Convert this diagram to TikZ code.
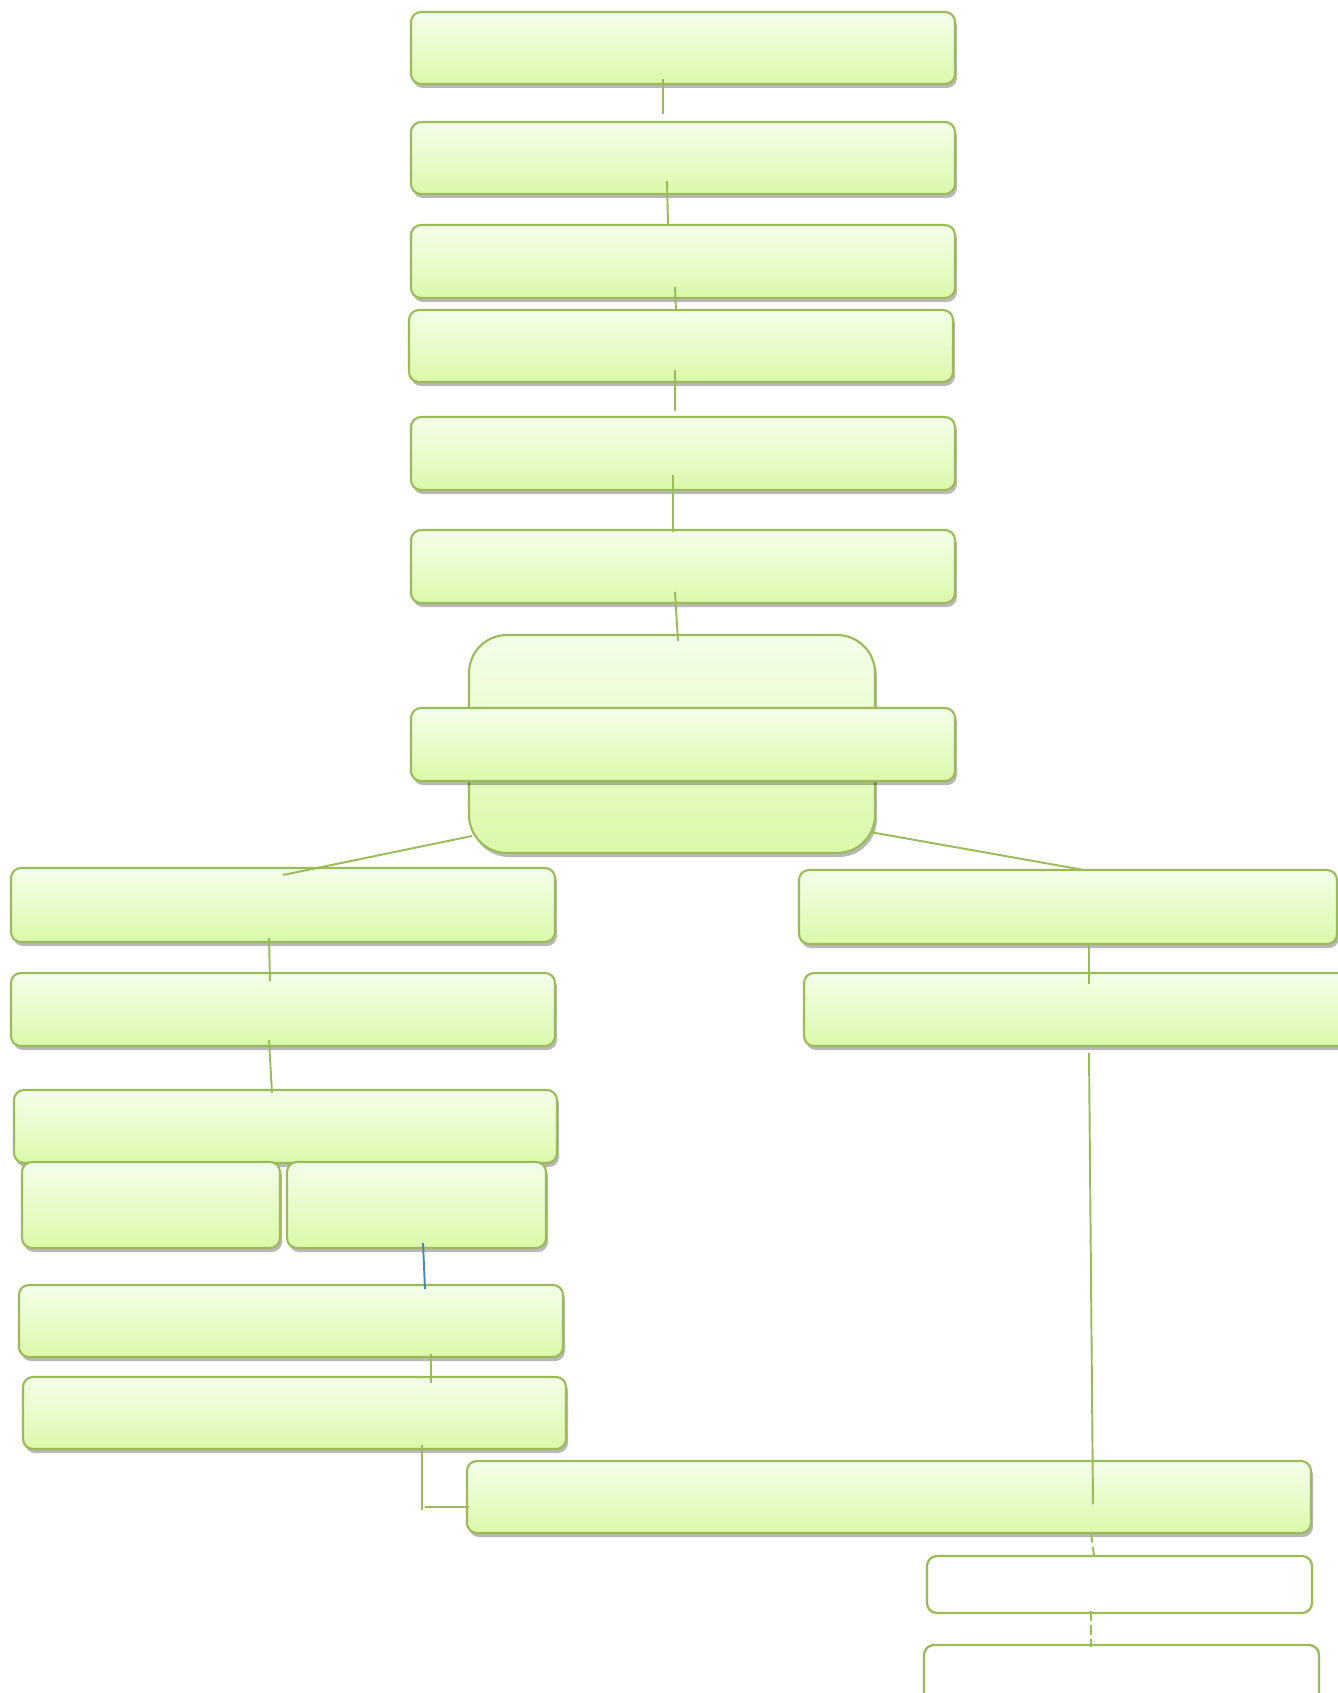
\documentclass[tikz,border=0pt]{standalone}
\usetikzlibrary{shadows}
\definecolor{gborder}{HTML}{9BBB59}
\definecolor{gtop}{HTML}{F4FEEA}
\definecolor{gbot}{HTML}{DBF9AA}
\definecolor{bline}{HTML}{4F81BD}
\newcommand\mkbox[6]{\node[#6, minimum width={((#4)-(#2))*0.02cm}, minimum height={((#5)-(#3))*0.02cm}] (#1) at ({((#2)+(#4))/2},{((#3)+(#5))/2}) {};}
\begin{document}
\begin{tikzpicture}[x=0.02cm,y=-0.02cm,
  gbox/.style={rectangle, rounded corners=0.2cm, draw=gborder, line width=1.2pt,
    top color=gtop, bottom color=gbot, inner sep=0pt, outer sep=0pt,
    drop shadow={shadow xshift=0.04cm, shadow yshift=-0.08cm, opacity=0.28, fill=black}},
  wbox/.style={rectangle, rounded corners=0.2cm, draw=gborder, line width=1.3pt,
    fill=white, inner sep=0pt, outer sep=0pt},
  conn/.style={draw=gborder, line width=1.1pt},
  bconn/.style={draw=bline, line width=1.1pt},
  dconn/.style={draw=gborder, line width=1.1pt, dash pattern=on 5.5pt off 2.5pt}]
\useasboundingbox (0,0) rectangle (1338,1693);
% boxes
\mkbox{b1}{411}{12}{955}{84}{gbox}
\mkbox{b2}{411}{122}{955}{194}{gbox}
\mkbox{b3}{411}{225}{955}{298}{gbox}
\mkbox{b4}{409}{310}{953}{382}{gbox}
\mkbox{b5}{411}{417}{955}{490}{gbox}
\mkbox{b6}{411}{530}{955}{603}{gbox}
\mkbox{big}{469}{635}{875}{853}{gbox, rounded corners=0.76cm}
\mkbox{b7}{411}{708}{955}{781}{gbox}
\mkbox{l1}{11}{868}{555}{942}{gbox}
\mkbox{r1}{799}{870}{1337}{944}{gbox}
\mkbox{l2}{11}{973}{555}{1046}{gbox}
\mkbox{r2}{804}{973}{1360}{1046}{gbox}
\mkbox{l3}{14}{1090}{557}{1163}{gbox}
\mkbox{l4a}{22}{1162}{280}{1248}{gbox}
\mkbox{l4b}{287}{1162}{546}{1248}{gbox}
\mkbox{l5}{19}{1285}{563}{1357}{gbox}
\mkbox{l6}{23}{1377}{566}{1449}{gbox}
\mkbox{bot}{467}{1461}{1311}{1533}{gbox}
\mkbox{w1}{927}{1556}{1312}{1613}{wbox}
\mkbox{w2}{924}{1645}{1319}{1715}{wbox}
% connector end points
\coordinate (b1o) at (663,79);   \coordinate (b2i) at (663,114);
\coordinate (b2o) at (667,181);  \coordinate (b3i) at (668,224);
\coordinate (b3o) at (675,287);  \coordinate (b4i) at (676,310);
\coordinate (b4o) at (675,370);  \coordinate (b5i) at (675,411);
\coordinate (b5o) at (673,475);  \coordinate (b6i) at (673,532);
\coordinate (b6o) at (675,592);  \coordinate (bigi) at (678,641);
\coordinate (bigl) at (472,836); \coordinate (l1i) at (283,875);
\coordinate (bigr) at (870,832); \coordinate (r1i) at (1084,870);
\coordinate (l1o) at (269,938);  \coordinate (l2i) at (270,981);
\coordinate (l2o) at (269,1040); \coordinate (l3i) at (272,1093);
\coordinate (l4bo) at (423,1243); \coordinate (l5i) at (425,1289);
\coordinate (l5o) at (431,1354); \coordinate (l6i) at (431,1383);
\coordinate (l6o) at (422,1445); \coordinate (l6d) at (422,1510);
\coordinate (botl1) at (425,1507); \coordinate (botl2) at (469,1507);
\coordinate (r1o) at (1089,944); \coordinate (r2i) at (1089,984);
\coordinate (r2o) at (1089,1053); \coordinate (boti) at (1093,1504);
\coordinate (boto) at (1091,1533); \coordinate (w1i) at (1094,1556);
\coordinate (w1o) at (1091,1611); \coordinate (w2i) at (1091,1647);
% connectors
\draw[conn] (b1o) -- (b2i);
\draw[conn] (b2o) -- (b3i);
\draw[conn] (b3o) -- (b4i);
\draw[conn] (b4o) -- (b5i);
\draw[conn] (b5o) -- (b6i);
\draw[conn] (b6o) -- (bigi);
\draw[conn] (bigl) -- (l1i);
\draw[conn] (bigr) -- (r1i);
\draw[conn] (l1o) -- (l2i);
\draw[conn] (l2o) -- (l3i);
\draw[bconn] (l4bo) -- (l5i);
\draw[conn] (l5o) -- (l6i);
\draw[conn] (l6o) -- (l6d);
\draw[conn] (botl1) -- (botl2);
\draw[conn] (r1o) -- (r2i);
\draw[conn] (r2o) -- (boti);
\draw[dconn] (boto) -- (w1i);
\draw[dconn] (w1o) -- (w2i);
\end{tikzpicture}
\end{document}
